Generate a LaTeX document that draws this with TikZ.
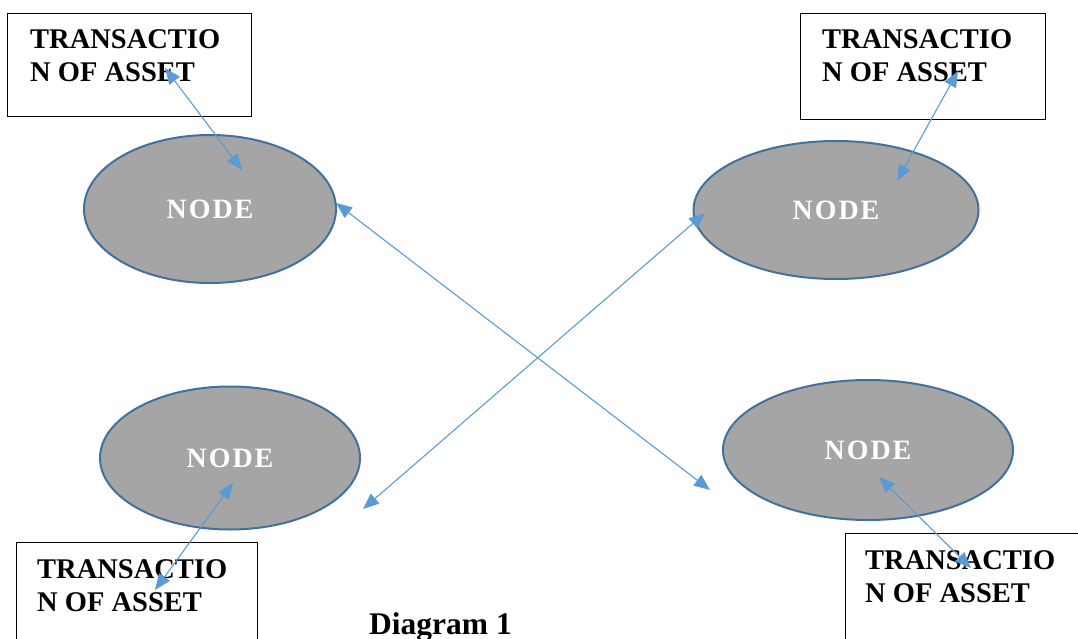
\documentclass[tikz,border=0pt]{standalone}
\usepackage{fontspec}
\setmainfont{Liberation Serif}
\usetikzlibrary{shapes.geometric,arrows.meta}

\definecolor{linkblue}{HTML}{5B9BD5}
\definecolor{nodefill}{HTML}{A5A5A5}
\definecolor{nodeedge}{HTML}{41719C}

\tikzset{
  peer/.style={ellipse, draw=nodeedge, line width=2pt, fill=nodefill,
    inner sep=0pt, text=white,
    font=\fontsize{28}{32}\selectfont\bfseries\addfontfeature{LetterSpace=7}},
  assetbox/.style={draw=black, line width=1.2pt, anchor=north west,
    inner sep=0pt},
  assetlabel/.style={anchor=base west, inner sep=0pt, align=left,
    font=\fontsize{28.5}{33}\selectfont\bfseries},
  link/.style={draw=linkblue, line width=1.1pt,
    {Triangle[length=16pt,width=13pt]}-{Triangle[length=16pt,width=13pt]}},
}

\begin{document}
\begin{tikzpicture}[x=1pt, y=-1pt]
  \useasboundingbox (0,0) rectangle (1078,639);

  % transaction boxes (outlines)
  \node[assetbox, minimum width=244pt, minimum height=103pt] (boxTL) at (7,13) {};
  \node[assetbox, minimum width=245pt, minimum height=106pt] (boxTR) at (800,13) {};
  \node[assetbox, minimum width=241pt, minimum height=110pt] (boxBL) at (16,542) {};
  \node[assetbox, minimum width=240pt, minimum height=110pt] (boxBR) at (845,533) {};

  % box captions (anchored at the baseline of the second line)
  \node[assetlabel] (txtTL) at (30,82) {TRANSACTIO\\N OF ASSET};
  \node[assetlabel] (txtTR) at (822,82) {TRANSACTIO\\N OF ASSET};
  \node[assetlabel] (txtBL) at (37,611) {TRANSACTIO\\N OF ASSET};
  \node[assetlabel] (txtBR) at (865,602) {TRANSACTIO\\N OF ASSET};

  % network nodes
  \node[peer, minimum width=252pt, minimum height=148pt] (nodeTL) at (210,209) {NODE};
  \node[peer, minimum width=285pt, minimum height=138pt] (nodeTR) at (836,210) {NODE};
  \node[peer, minimum width=260pt, minimum height=143pt] (nodeBL) at (230,458) {NODE};
  \node[peer, minimum width=290pt, minimum height=140pt] (nodeBR) at (868,450) {NODE};

  % arrow end points
  \coordinate (aTL1) at (165,68);
  \coordinate (aTL2) at (242,170);
  \coordinate (aTR1) at (958,71);
  \coordinate (aTR2) at (897,181);
  \coordinate (aBL1) at (233,483);
  \coordinate (aBL2) at (155,590);
  \coordinate (aBR1) at (879,477);
  \coordinate (aBR2) at (971,568);
  \coordinate (xA1) at (336,203);
  \coordinate (xA2) at (710,490);
  \coordinate (xB1) at (705,213);
  \coordinate (xB2) at (363,509);

  % links between boxes and nodes
  \draw[link] (aTL1) -- (aTL2);
  \draw[link] (aTR1) -- (aTR2);
  \draw[link] (aBL1) -- (aBL2);
  \draw[link] (aBR1) -- (aBR2);

  % crossing links between nodes
  \draw[link] (xA1) -- (xA2);
  \draw[link] (xB1) -- (xB2);

  % caption
  \node[anchor=base west, inner sep=0pt, font=\fontsize{31.5}{36}\selectfont\bfseries]
    (caption) at (369,634) {Diagram 1};
\end{tikzpicture}
\end{document}
